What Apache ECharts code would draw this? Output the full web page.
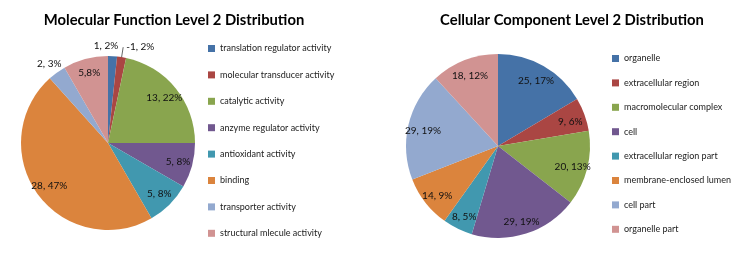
<!DOCTYPE html>
<html>
<head>
<meta charset="utf-8">
<script src="https://cdn.jsdelivr.net/npm/echarts@6/dist/echarts.min.js"></script>
<style>
  html, body { margin: 0; padding: 0; background: #fff; }
  #chart { width: 750px; height: 264px; }
</style>
</head>
<body>
<div id="chart"></div>
<script>
const palette = ['#4572A7', '#AA4643', '#89A54E', '#71588F', '#4198AF', '#DB843D', '#93A9CF', '#D19392']

const mfNames = ['translation regulator activity', 'molecular transducer activity', 'catalytic activity',
  'anzyme regulator activity', 'antioxidant activity', 'binding', 'transporter activity', 'structural mlecule activity']
const mfValues = [1, 1, 13, 5, 5, 28, 2, 5]
const mfLabels = ['1, 2%', '-1, 2%', '13, 22%', '5, 8%', '5, 8%', '28, 47%', '2, 3%', '5,8%']

const ccNames = ['organelle', 'extracellular region', 'macromolecular complex', 'cell',
  'extracellular region part', 'membrane-enclosed lumen', 'cell part', 'organelle part']
const ccValues = [25, 9, 20, 29, 8, 14, 29, 18]
const ccLabels = ['25, 17%', '9, 6%', '20, 13%', '29, 19%', '8, 5%', '14, 9%', '29, 19%', '18, 12%']

const FONT = 'Lato'

const pieData = (names, values) => names.map((n, i) => ({
  name: n, value: values[i], itemStyle: { color: palette[i] }
}))

// transparent copy of a pie that only carries labels
// opts.show: indices to label, opts.outside: indices placed outside, opts.line: index with leader line
// opts.shift: small nudges for outside labels
const labelSeries = (center, radius, names, values, labels, opts) => ({
  type: 'pie',
  center,
  radius,
  silent: true,
  startAngle: 90,
  itemStyle: { color: 'rgba(0,0,0,0)' },
  label: { show: true, color: '#111', fontFamily: FONT, fontSize: 10 },
  labelLine: { lineStyle: { color: '#666', width: 1 } },
  labelLayout: p => {
    const s = (opts.shift || {})[p.dataIndex]
    return s ? { dx: s[0], dy: s[1] } : {}
  },
  data: names.map((n, i) => {
    const out = (opts.outside || []).includes(i)
    const isLine = opts.line === i
    return {
      name: n,
      value: values[i],
      label: {
        show: !opts.show || opts.show.includes(i),
        position: out ? 'outside' : 'inside',
        formatter: labels[i],
        distanceToLabelLine: 3
      },
      labelLine: isLine
        ? { show: true, length: 10, length2: 0 }
        : { show: false, length: 4, length2: 3 }
    }
  })
})

const legendText = { fontFamily: FONT, fontSize: 9, color: '#222' }

const chart = echarts.init(document.getElementById('chart'))
chart.setOption({
  animation: false,
  title: [
    { text: 'Molecular Function Level 2 Distribution', left: 169, top: 8, textAlign: 'center',
      textStyle: { fontFamily: FONT, fontSize: 14.8, fontWeight: 'bold', color: '#000' } },
    { text: 'Cellular Component Level 2 Distribution', left: 567, top: 8, textAlign: 'center',
      textStyle: { fontFamily: FONT, fontSize: 14.8, fontWeight: 'bold', color: '#000' } }
  ],
  legend: [
    { data: mfNames, orient: 'vertical', left: 208, top: 44, padding: 0, itemWidth: 7, itemHeight: 7,
      itemGap: 17.4, icon: 'rect', textStyle: legendText },
    { data: ccNames, orient: 'vertical', left: 612, top: 54, padding: 0, itemWidth: 7, itemHeight: 7,
      itemGap: 15.4, icon: 'rect', textStyle: legendText }
  ],
  series: [
    { type: 'pie', center: [108, 143], radius: 87, startAngle: 90, label: { show: false },
      silent: true, data: pieData(mfNames, mfValues) },
    { type: 'pie', center: [498, 146], radius: 92, startAngle: 90, label: { show: false },
      silent: true, data: pieData(ccNames, ccValues) },
    labelSeries([108, 143], [52, 87], mfNames, mfValues, mfLabels,
      { show: [1, 2, 3, 4, 5, 6, 7], outside: [1, 6], line: 1, shift: { 6: [13, -6] } }),
    labelSeries([108, 143], [52, 87], mfNames, mfValues, mfLabels,
      { show: [0], outside: [0], shift: { 0: [-25, -6] } }),
    labelSeries([498, 148], [56, 92], ccNames, ccValues, ccLabels, {})
  ]
})
</script>
</body>
</html>
